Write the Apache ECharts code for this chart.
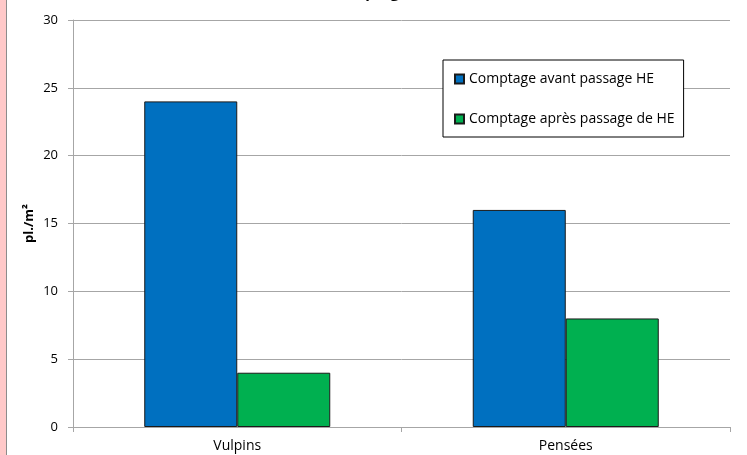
<!DOCTYPE html>
<html lang="fr">
<head>
  <meta charset="UTF-8">
  <title>Comptage</title>
  <style>
    html, body { margin: 0; padding: 0; background: #fff; }
    #chart { width: 747px; height: 455px; }
  </style>
</head>
<body>
  <script src="https://cdn.jsdelivr.net/npm/echarts@6/dist/echarts.min.js"></script>
  <div id="chart"></div>
  <script>
    var chart = echarts.init(document.getElementById('chart'))

    // données
    var categories = ['Vulpins', 'Pensées']
    var avant = [24, 16]
    var apres = [4, 8]
    var seriesNames = ['Comptage avant passage HE', 'Comptage après passage de HE']

    var font = '"Open Sans", "Noto Sans", sans-serif'

    var option = {
      backgroundColor: '#fff',
      animation: false,
      title: {
        text: 'Comptages',
        left: 'center',
        top: -19,
        textStyle: { fontSize: 15, fontWeight: 'bold', color: '#000', fontFamily: font }
      },
      legend: {
        orient: 'vertical',
        left: 443,
        top: 60,
        icon: 'rect',
        itemWidth: 9,
        itemHeight: 9,
        itemGap: 24,
        padding: [11, 9, 10, 11],
        borderColor: '#000',
        borderWidth: 1,
        backgroundColor: '#fff',
        textStyle: { fontSize: 14, lineHeight: 16, color: '#000', fontFamily: font },
        data: seriesNames
      },
      grid: { left: 73, right: 17, top: 20, bottom: 28, outerBoundsMode: 'none' },
      xAxis: {
        type: 'category',
        data: categories,
        axisLine: { lineStyle: { color: '#a6a6a6' } },
        axisTick: { show: true, length: 5, lineStyle: { color: '#a6a6a6' } },
        axisLabel: { color: '#000', fontSize: 14, margin: 12, fontFamily: font }
      },
      yAxis: {
        type: 'value',
        min: 0,
        max: 30,
        interval: 5,
        name: 'pl./m²',
        nameLocation: 'middle',
        nameGap: 37,
        nameMoveOverlap: false,
        nameTextStyle: { fontSize: 13, fontWeight: 'bold', color: '#000', fontFamily: font },
        axisLine: { show: true, lineStyle: { color: '#a6a6a6' } },
        axisTick: { show: true, length: 5, lineStyle: { color: '#a6a6a6' } },
        axisLabel: { color: '#000', fontSize: 13, margin: 15, fontFamily: font },
        splitLine: { lineStyle: { color: '#a6a6a6' } }
      },
      series: [
        {
          name: seriesNames[0],
          type: 'bar',
          data: avant,
          barWidth: 93,
          barGap: '0%',
          itemStyle: { color: '#0070c0', borderColor: '#1a1a1a', borderWidth: 1 }
        },
        {
          name: seriesNames[1],
          type: 'bar',
          data: apres,
          barWidth: 93,
          barGap: '0%',
          itemStyle: { color: '#00b050', borderColor: '#1a1a1a', borderWidth: 1 }
        }
      ],
      graphic: [
        { type: 'rect', left: 0, top: 0, shape: { width: 6, height: 455 }, style: { fill: '#ffc9c9' } },
        { type: 'rect', left: 6, top: 0, shape: { width: 1, height: 455 }, style: { fill: '#8c8c8c' } }
      ]
    }
    chart.setOption(option)
  </script>
</body>
</html>
